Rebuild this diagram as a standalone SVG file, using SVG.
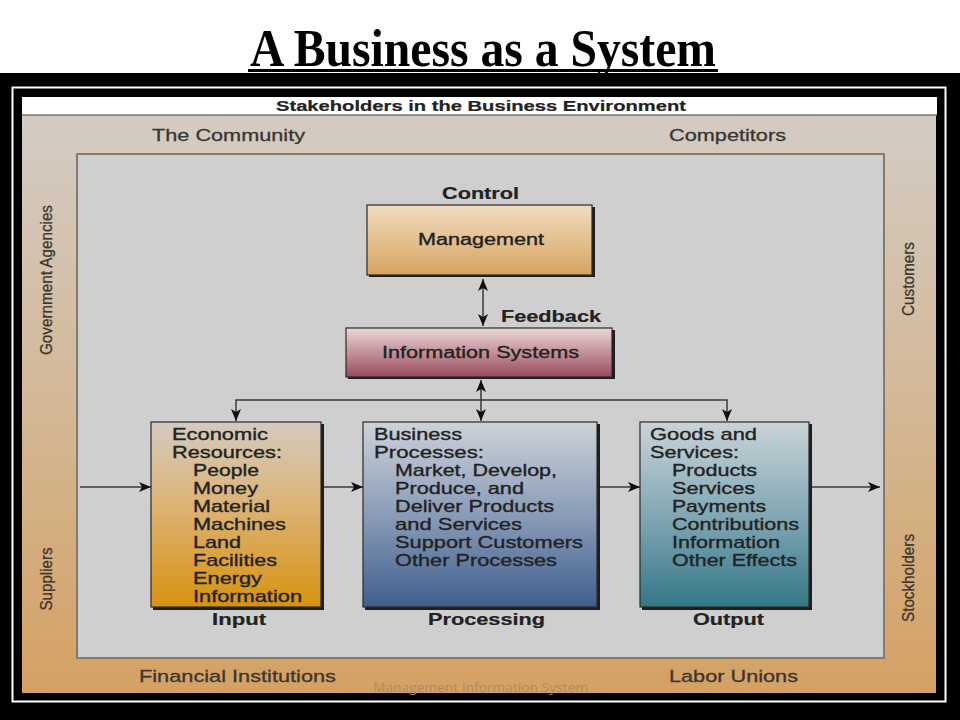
<svg xmlns="http://www.w3.org/2000/svg" width="960" height="720" viewBox="0 0 960 720">
<defs>
<style>
.t{font-family:"Liberation Sans",Arial,sans-serif;fill:#222;stroke:#222;stroke-width:0.35}
.b{font-weight:bold;stroke-width:0.2}
.band{font-family:"Liberation Sans",Arial,sans-serif;fill:#3a3630;stroke:#3a3630;stroke-width:0.3;font-size:17px}
.box{stroke:#2a2a2a;stroke-width:1.2}
.sh{fill:#1e1e1e}
.ln{stroke:#3a3a3a;stroke-width:1.5;fill:none}
</style>
<linearGradient id="gBand" x1="0" y1="0" x2="0" y2="1">
<stop offset="0" stop-color="#d3ccc5"/>
<stop offset="0.5" stop-color="#d3b896"/>
<stop offset="1" stop-color="#d5a163"/>
</linearGradient>
<linearGradient id="gMgmt" x1="0" y1="0" x2="0" y2="1">
<stop offset="0" stop-color="#f1dcc2"/>
<stop offset="1" stop-color="#d8a45e"/>
</linearGradient>
<linearGradient id="gIS" x1="0" y1="0" x2="0" y2="1">
<stop offset="0" stop-color="#ecd8d8"/>
<stop offset="1" stop-color="#9a4a5c"/>
</linearGradient>
<linearGradient id="gIn" x1="0" y1="0" x2="0" y2="1">
<stop offset="0" stop-color="#d4cbbf"/>
<stop offset="0.45" stop-color="#dcb375"/>
<stop offset="1" stop-color="#d8920e"/>
</linearGradient>
<linearGradient id="gProc" x1="0" y1="0" x2="0" y2="1">
<stop offset="0" stop-color="#ced2da"/>
<stop offset="0.5" stop-color="#8a9cb8"/>
<stop offset="1" stop-color="#3f5f8e"/>
</linearGradient>
<linearGradient id="gOut" x1="0" y1="0" x2="0" y2="1">
<stop offset="0" stop-color="#cad3d8"/>
<stop offset="0.5" stop-color="#82a8b4"/>
<stop offset="1" stop-color="#347786"/>
</linearGradient>
<marker id="arr" viewBox="0 0 12 10" refX="12" refY="5" markerWidth="12" markerHeight="10" markerUnits="userSpaceOnUse" orient="auto-start-reverse">
<path d="M0,0 L12,5 L0,10 L3,5 z" fill="#111"/>
</marker>
</defs>

<rect x="0" y="0" width="960" height="720" fill="#ffffff"/>
<g id="title">
<text x="250" y="66" font-family="'Liberation Serif','Times New Roman',serif" font-weight="bold" font-size="52" textLength="466" lengthAdjust="spacingAndGlyphs" fill="#000">A Business as a System</text>
<rect x="248" y="69" width="470" height="3" fill="#000"/>
</g>

<rect x="0" y="73" width="960" height="647" fill="#000"/>
<rect x="12.5" y="87.5" width="933" height="614" fill="none" stroke="#fff" stroke-width="2"/>

<g id="environment">
<rect x="22" y="115" width="914" height="578" fill="url(#gBand)"/>
<rect x="22" y="97" width="915" height="18" fill="#fff"/>
<line x1="22" y1="115" x2="937" y2="115" stroke="#777" stroke-width="1.5"/>
<text class="t b" x="276" y="111" font-size="15" textLength="410" lengthAdjust="spacingAndGlyphs" fill="#2a2a2a">Stakeholders in the Business Environment</text>
<rect x="77" y="154" width="807" height="504" fill="#cfcfcf" stroke="#857a6c" stroke-width="2"/>
</g>

<g id="stakeholders">
<text class="band" x="152" y="141" textLength="153" lengthAdjust="spacingAndGlyphs">The Community</text>
<text class="band" x="669" y="141" textLength="117" lengthAdjust="spacingAndGlyphs">Competitors</text>
<text class="band" x="139" y="682" textLength="197" lengthAdjust="spacingAndGlyphs">Financial Institutions</text>
<text class="band" x="669" y="682" textLength="129" lengthAdjust="spacingAndGlyphs">Labor Unions</text>
<text class="band" font-size="15" transform="translate(52,280) rotate(-90)" text-anchor="middle" textLength="150" lengthAdjust="spacingAndGlyphs">Government Agencies</text>
<text class="band" font-size="15" transform="translate(52,579) rotate(-90)" text-anchor="middle" textLength="63" lengthAdjust="spacingAndGlyphs">Suppliers</text>
<text class="band" font-size="15" transform="translate(914,279) rotate(-90)" text-anchor="middle" textLength="74" lengthAdjust="spacingAndGlyphs">Customers</text>
<text class="band" font-size="15" transform="translate(914,578) rotate(-90)" text-anchor="middle" textLength="88" lengthAdjust="spacingAndGlyphs">Stockholders</text>
</g>

<g id="connectors">
<line class="ln" x1="483" y1="279" x2="483" y2="326" marker-start="url(#arr)" marker-end="url(#arr)"/>
<line class="ln" x1="481" y1="380" x2="481" y2="421" marker-start="url(#arr)" marker-end="url(#arr)"/>
<path class="ln" d="M481,400 H236 V421" marker-end="url(#arr)"/>
<path class="ln" d="M481,400 H727 V421" marker-end="url(#arr)"/>
<line class="ln" x1="80" y1="487" x2="151" y2="487" marker-end="url(#arr)"/>
<line class="ln" x1="323" y1="487" x2="363" y2="487" marker-end="url(#arr)"/>
<line class="ln" x1="599" y1="487" x2="640" y2="487" marker-end="url(#arr)"/>
<line class="ln" x1="812" y1="487" x2="880" y2="487" marker-end="url(#arr)"/>
</g>

<g id="control">
<text class="t b" x="442" y="199" font-size="16" textLength="77" lengthAdjust="spacingAndGlyphs">Control</text>
<rect class="sh" x="369" y="207" width="226" height="70"/>
<rect class="box" x="367" y="205" width="225" height="70" fill="url(#gMgmt)"/>
<text class="t" x="418" y="245" font-size="16" textLength="126" lengthAdjust="spacingAndGlyphs" fill="#3a3020" stroke="#3a3020">Management</text>
</g>

<g id="feedback">
<text class="t b" x="501" y="322" font-size="16" textLength="100" lengthAdjust="spacingAndGlyphs">Feedback</text>
</g>

<g id="information-systems">
<rect class="sh" x="348" y="330" width="267" height="49"/>
<rect class="box" x="346" y="328" width="266" height="49" fill="url(#gIS)"/>
<text class="t" x="382" y="358" font-size="16" textLength="197" lengthAdjust="spacingAndGlyphs" fill="#55202e" stroke="#55202e">Information Systems</text>
</g>

<g id="input">
<rect class="sh" x="153" y="424" width="171" height="186"/>
<rect class="box" x="151" y="422" width="170" height="185" fill="url(#gIn)"/>
<g class="t" font-size="17">
<text x="172" y="440" textLength="96" lengthAdjust="spacingAndGlyphs">Economic</text>
<text x="172" y="458" textLength="110" lengthAdjust="spacingAndGlyphs">Resources:</text>
<text x="193" y="476" textLength="66" lengthAdjust="spacingAndGlyphs">People</text>
<text x="193" y="494" textLength="65" lengthAdjust="spacingAndGlyphs">Money</text>
<text x="193" y="512" textLength="77" lengthAdjust="spacingAndGlyphs">Material</text>
<text x="193" y="530" textLength="93" lengthAdjust="spacingAndGlyphs">Machines</text>
<text x="193" y="548" textLength="48" lengthAdjust="spacingAndGlyphs">Land</text>
<text x="193" y="566" textLength="84" lengthAdjust="spacingAndGlyphs">Facilities</text>
<text x="193" y="584" textLength="69" lengthAdjust="spacingAndGlyphs">Energy</text>
<text x="193" y="602" textLength="109" lengthAdjust="spacingAndGlyphs">Information</text>
</g>
<text class="t b" x="212" y="625" font-size="17" textLength="54" lengthAdjust="spacingAndGlyphs">Input</text>
</g>

<g id="processing">
<rect class="sh" x="365" y="424" width="235" height="186"/>
<rect class="box" x="363" y="422" width="234" height="185" fill="url(#gProc)"/>
<g class="t" font-size="17">
<text x="374" y="440" textLength="88" lengthAdjust="spacingAndGlyphs">Business</text>
<text x="374" y="458" textLength="110" lengthAdjust="spacingAndGlyphs">Processes:</text>
<text x="395" y="476" textLength="162" lengthAdjust="spacingAndGlyphs">Market, Develop,</text>
<text x="395" y="494" textLength="129" lengthAdjust="spacingAndGlyphs">Produce, and</text>
<text x="395" y="512" textLength="159" lengthAdjust="spacingAndGlyphs">Deliver Products</text>
<text x="395" y="530" textLength="127" lengthAdjust="spacingAndGlyphs">and Services</text>
<text x="395" y="548" textLength="188" lengthAdjust="spacingAndGlyphs">Support Customers</text>
<text x="395" y="566" textLength="162" lengthAdjust="spacingAndGlyphs">Other Processes</text>
</g>
<text class="t b" x="428" y="625" font-size="17" textLength="117" lengthAdjust="spacingAndGlyphs">Processing</text>
</g>

<g id="output">
<rect class="sh" x="642" y="424" width="170" height="186"/>
<rect class="box" x="640" y="422" width="169" height="185" fill="url(#gOut)"/>
<g class="t" font-size="17">
<text x="650" y="440" textLength="107" lengthAdjust="spacingAndGlyphs">Goods and</text>
<text x="650" y="458" textLength="89" lengthAdjust="spacingAndGlyphs">Services:</text>
<text x="672" y="476" textLength="85" lengthAdjust="spacingAndGlyphs">Products</text>
<text x="672" y="494" textLength="83" lengthAdjust="spacingAndGlyphs">Services</text>
<text x="672" y="512" textLength="94" lengthAdjust="spacingAndGlyphs">Payments</text>
<text x="672" y="530" textLength="127" lengthAdjust="spacingAndGlyphs">Contributions</text>
<text x="672" y="548" textLength="108" lengthAdjust="spacingAndGlyphs">Information</text>
<text x="672" y="566" textLength="125" lengthAdjust="spacingAndGlyphs">Other Effects</text>
</g>
<text class="t b" x="693" y="625" font-size="17" textLength="71" lengthAdjust="spacingAndGlyphs">Output</text>
</g>

<g id="watermark">
<text x="373" y="692" font-family="'Open Sans','Liberation Sans',sans-serif" font-size="12" textLength="215" lengthAdjust="spacingAndGlyphs" fill="#a88c68">Management Information System</text>
</g>
</svg>
